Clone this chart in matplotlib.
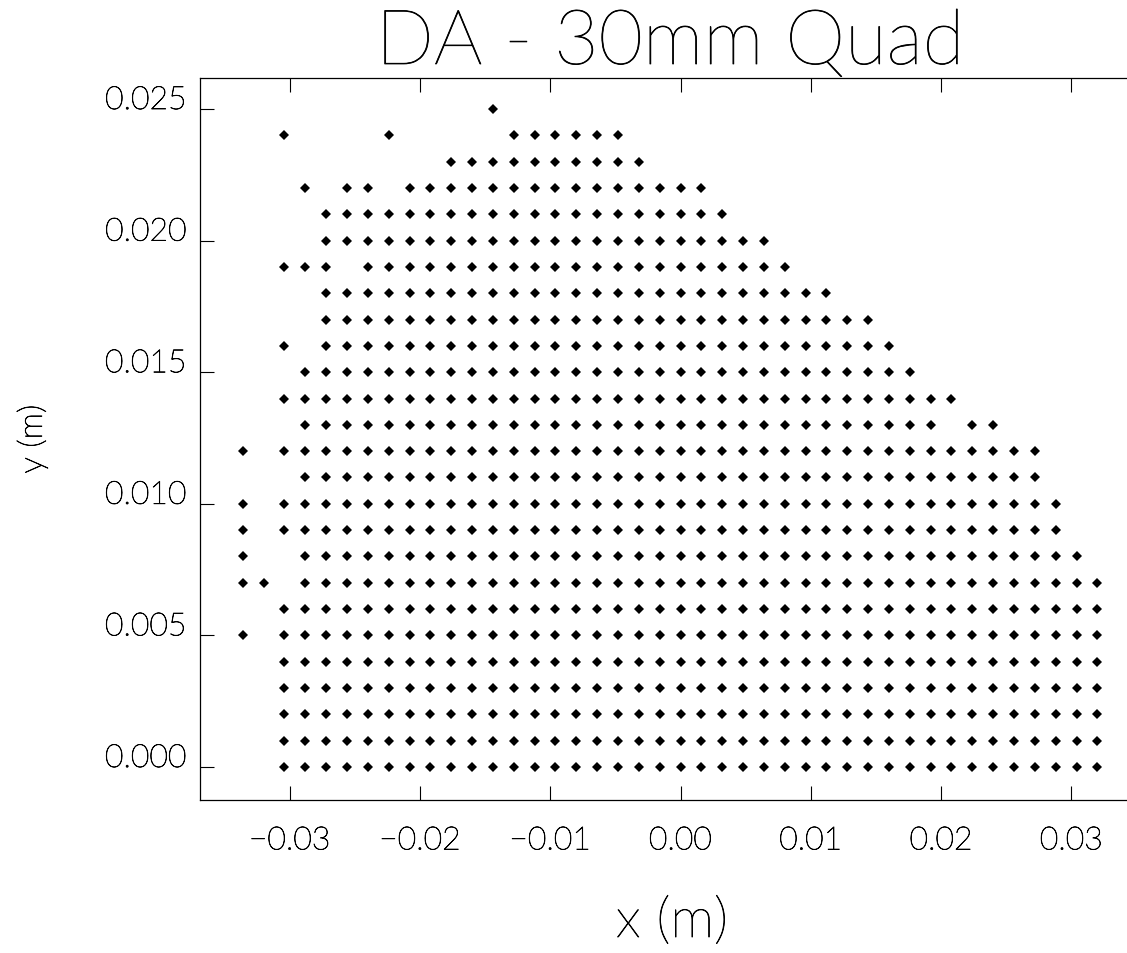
import matplotlib
matplotlib.use("Agg")
import matplotlib.pyplot as plt
import matplotlib.patheffects as pe

# ---- data ----
# grid columns (x positions in m), index -21 .. 20
x_grid = [-0.0336, -0.0320, -0.0304, -0.0288, -0.0272, -0.0256, -0.0240,
          -0.0224, -0.0208, -0.0192, -0.0176, -0.0160, -0.0144, -0.0128,
          -0.0112, -0.0096, -0.0080, -0.0064, -0.0048, -0.0032, -0.0016,
          0.0000, 0.0016, 0.0032, 0.0048, 0.0064, 0.0080, 0.0096,
          0.0112, 0.0128, 0.0144, 0.0160, 0.0176, 0.0192, 0.0208,
          0.0224, 0.0240, 0.0256, 0.0272, 0.0288, 0.0304, 0.0320]
x_grid_first_index = -21

y_rows = [0.000, 0.001, 0.002, 0.003, 0.004, 0.005, 0.006, 0.007, 0.008,
          0.009, 0.010, 0.011, 0.012, 0.013, 0.014, 0.015, 0.016, 0.017,
          0.018, 0.019, 0.020, 0.021, 0.022, 0.023, 0.024, 0.025]

# for each row: spans (first, last) of occupied grid-column indices
row_spans = [
    [(-19, 20)],
    [(-19, 20)],
    [(-19, 20)],
    [(-19, 20)],
    [(-19, 20)],
    [(-21, -21), (-19, 20)],
    [(-19, 20)],
    [(-21, -20), (-18, 20)],
    [(-21, -21), (-18, 19)],
    [(-21, -21), (-19, 18)],
    [(-21, -21), (-19, 18)],
    [(-18, 17)],
    [(-21, -21), (-19, 17)],
    [(-18, 12), (14, 15)],
    [(-19, 13)],
    [(-18, 11)],
    [(-19, -19), (-17, 10)],
    [(-17, 9)],
    [(-17, 7)],
    [(-19, -17), (-15, 5)],
    [(-17, 4)],
    [(-17, 2)],
    [(-18, -18), (-16, -15), (-13, 1)],
    [(-11, -2)],
    [(-19, -19), (-14, -14), (-8, -3)],
    [(-9, -9)],
]

x_ticks = [-0.03, -0.02, -0.01, 0.00, 0.01, 0.02, 0.03]
x_tick_labels = ["\u22120.03", "\u22120.02", "\u22120.01", "0.00", "0.01", "0.02", "0.03"]
y_ticks = [0.000, 0.005, 0.010, 0.015, 0.020, 0.025]
y_tick_labels = ["0.000", "0.005", "0.010", "0.015", "0.020", "0.025"]

title_text = "DA - 30mm Quad"
x_label = "x (m)"
y_label = "y (m)"

# ---- build point list ----
xs, ys = [], []
for y, spans in zip(y_rows, row_spans):
    for a, b in spans:
        for k in range(a, b + 1):
            xs.append(x_grid[k - x_grid_first_index])
            ys.append(y)

FONT = "Lato"
WEIGHT = 100
FX = [pe.withStroke(linewidth=0.55, foreground="black")]
W, H = 1127, 954
fig = plt.figure(figsize=(W / 100, H / 100), dpi=100)
fig.patch.set_facecolor("white")

ax = fig.add_axes([200 / W, (H - 801) / H, 944 / W, (801 - 79) / H])
ax.plot(xs, ys, linestyle="none", marker="D", markersize=5.6,
        markeredgewidth=0, color="black", clip_on=False)

ax.set_xlim(-0.036882, 0.035577)
ax.set_ylim(-0.001254, 0.026178)

for s in ax.spines.values():
    s.set_linewidth(0.9)
    s.set_color("black")

ax.set_xticks(x_ticks)
ax.set_xticklabels(x_tick_labels)
ax.set_yticks(y_ticks)
ax.set_yticklabels(y_tick_labels)
ax.tick_params(axis="x", direction="in", length=10, width=0.8, top=True,
               bottom=True, pad=19, labelsize=23, colors="black")
ax.tick_params(axis="y", direction="in", length=10, width=0.8, left=True,
               right=False, pad=9.5, labelsize=23, colors="black")
for lbl in ax.get_xticklabels() + ax.get_yticklabels():
    lbl.set_family(FONT)
    lbl.set_weight(WEIGHT)
    lbl.set_path_effects(FX)
for lbl in ax.get_yticklabels():
    lbl.set_va("baseline")

fig.text(670 / W, (H - 65) / H, title_text, ha="center", va="baseline",
         fontsize=55, family=FONT, weight=WEIGHT, color="black",
         path_effects=FX)
fig.text(672 / W, (H - 938) / H, x_label, ha="center", va="baseline",
         fontsize=40, family=FONT, weight=WEIGHT, color="black",
         path_effects=FX)
fig.text(32 / W, (H - 440) / H, y_label, ha="center", va="center",
         rotation=90, fontsize=24, family=FONT, weight=WEIGHT, color="black",
         path_effects=FX)

fig.savefig("out.png", dpi=100, facecolor="white")
